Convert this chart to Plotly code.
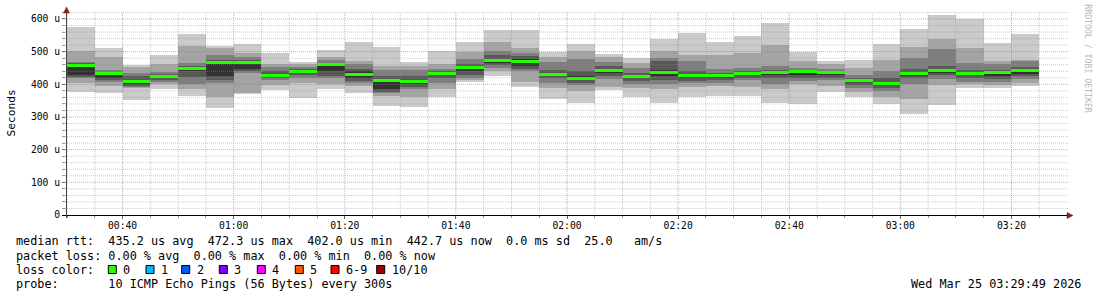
import plotly.graph_objects as go

# ---------------- data ----------------
DAY = "2026-03-25"
slot_start = ["00:30", "00:35", "00:40", "00:45", "00:50", "00:55", "01:00", "01:05", "01:10",
              "01:15", "01:20", "01:25", "01:30", "01:35", "01:40", "01:45", "01:50", "01:55",
              "02:00", "02:05", "02:10", "02:15", "02:20", "02:25", "02:30", "02:35", "02:40",
              "02:45", "02:50", "02:55", "03:00", "03:05", "03:10", "03:15", "03:20"]

# sorted ping round-trip times (microseconds), ping1 = fastest ... ping10 = slowest
ping1 = [375, 374, 352, 387, 364, 329, 370, 383, 359, 385, 372, 334, 331, 360, 408, 425, 393, 355,
         344, 383, 360, 344, 362, 363, 364, 344, 340, 378, 362, 340, 310, 337, 388, 388, 395]
ping2 = [405, 395, 388, 400, 387, 360, 374, 398, 405, 400, 396, 365, 362, 385, 414, 440, 408, 388,
         380, 392, 388, 385, 392, 395, 392, 385, 400, 395, 378, 360, 355, 398, 400, 398, 405]
ping3 = [418, 408, 392, 408, 401, 405, 434, 412, 418, 418, 405, 372, 385, 405, 420, 450, 440, 405,
         398, 415, 400, 402, 405, 405, 412, 400, 410, 412, 390, 380, 400, 415, 408, 408, 415]
ping4 = [422, 413, 396, 414, 423, 413, 440, 418, 428, 425, 410, 378, 392, 418, 428, 458, 448, 418,
         405, 425, 410, 412, 410, 412, 420, 418, 420, 420, 398, 390, 418, 428, 418, 415, 425]
ping5 = [428, 418, 400, 420, 440, 425, 446, 423, 436, 440, 420, 385, 400, 428, 440, 465, 455, 424,
         412, 436, 418, 425, 420, 420, 428, 428, 430, 428, 406, 398, 425, 435, 428, 425, 433]
ping6 = [461, 436, 412, 428, 450, 470, 472, 433, 442, 464, 440, 413, 414, 436, 456, 478, 478, 436,
         424, 447, 428, 445, 430, 430, 436, 440, 440, 437, 415, 405, 438, 446, 437, 440, 447]
ping7 = [464, 439, 425, 432, 455, 474, 476, 442, 446, 466, 448, 425, 425, 440, 462, 490, 488, 444,
         440, 455, 436, 472, 440, 436, 440, 445, 443, 440, 420, 418, 446, 455, 445, 445, 452]
ping8 = [469, 444, 436, 437, 466, 490, 485, 453, 452, 474, 462, 444, 444, 448, 478, 502, 497, 469,
         477, 469, 450, 482, 470, 446, 450, 456, 450, 446, 430, 440, 482, 508, 466, 462, 470]
ping9 = [502, 484, 452, 462, 518, 510, 497, 462, 461, 484, 472, 457, 456, 462, 500, 530, 510, 485,
         502, 483, 464, 502, 490, 490, 497, 520, 472, 462, 449, 474, 515, 539, 511, 470, 476]
ping10 = [574, 510, 459, 490, 554, 518, 523, 497, 468, 505, 530, 515, 468, 503, 530, 566, 566, 500,
          524, 494, 482, 539, 558, 529, 548, 588, 500, 472, 474, 522, 569, 612, 600, 525, 554]
median_rtt = [457, 433, 408, 424, 447, 466, 468, 428, 439, 461, 431, 411, 410, 433, 452, 472, 469, 430,
              419, 442, 423, 435, 426, 426, 433, 435, 439, 436, 411, 402, 432, 442, 433, 436, 443]

y_tick_values = [0, 100, 200, 300, 400, 500, 600]
y_tick_labels = ["0", "100 u", "200 u", "300 u", "400 u", "500 u", "600 u"]

legend_lines = [
    "median rtt:  435.2 us avg  472.3 us max  402.0 us min  442.7 us now  0.0 ms sd  25.0   am/s",
    "packet loss: 0.00 % avg  0.00 % max  0.00 % min  0.00 % now",
    "loss color:",
    "probe:       10 ICMP Echo Pings (56 Bytes) every 300s",
]
loss_labels = ["0", "1", "2", "3", "4", "5", "6-9", "10/10"]
loss_colors = ["#26ff00", "#00b8ff", "#0059ff", "#7e00ff", "#ff00ff", "#ff5500", "#ff0000", "#a10000"]
timestamp_text = "Wed Mar 25 03:29:49 2026"

# ---------------- geometry helpers (figure pixels -> paper) ----------------
W, H = 1097, 297
PL, PR, PT, PB = 66, 1066, 12, 215
PW, PH = PR - PL, PB - PT
Y_MAX = 621.4


def fx(x):
    return (x - PL) / PW


def fy(y):
    return (PB - y) / PH


times = [f"{DAY} {t}:00" for t in slot_start]
STEP_MS = 300000
MONO = "DejaVu Sans Mono"

fig = go.Figure()

bands = [(ping1, ping10, "#cacaca"), (ping2, ping9, "#a4a4a4"), (ping3, ping8, "#7e7e7e"),
         (ping4, ping7, "#585858"), (ping5, ping6, "#323232")]
for lo, hi, col in bands:
    fig.add_trace(go.Bar(
        x=times, y=[h - l for l, h in zip(lo, hi)], base=lo,
        width=STEP_MS, offset=0,
        marker=dict(color=col, line=dict(width=0)),
        hoverinfo="skip", showlegend=False))

# median drawn as a thin band (like smokeping's stacked area)
MED_HALF = 1.5 * Y_MAX / PH
fig.add_trace(go.Bar(
    x=times, y=[2 * MED_HALF] * len(median_rtt), base=[m - MED_HALF for m in median_rtt],
    width=STEP_MS, offset=0,
    marker=dict(color=loss_colors[0], line=dict(width=0)),
    hoverinfo="skip", showlegend=False))

shapes = []
# grid lines (drawn above the data like rrdtool)
MINOR = "rgba(143,143,143,0.45)"
MAJOR = "rgba(222,79,79,0.55)"
for v in range(20, 640, 20):
    if v > Y_MAX:
        break
    col = MAJOR if v % 100 == 0 else MINOR
    shapes.append(dict(type="line", xref="paper", yref="y", x0=fx(63), x1=fx(1068), y0=v, y1=v,
                       line=dict(color=col, width=1, dash="1px,1px"), layer="above"))
for k in range(0, 37):
    total = 30 + 5 * k
    hh, mm = divmod(total, 60)
    t = f"{DAY} {hh:02d}:{mm:02d}:00"
    col = MAJOR if mm % 20 == 0 else MINOR
    shapes.append(dict(type="line", xref="x", yref="paper", x0=t, x1=t, y0=fy(218), y1=fy(12),
                       line=dict(color=col, width=1, dash="1px,1px"), layer="above"))

# axes
shapes.append(dict(type="line", xref="paper", yref="paper", x0=fx(62), x1=fx(1068),
                   y0=fy(215.5), y1=fy(215.5), line=dict(color="#000000", width=1), layer="above"))
shapes.append(dict(type="line", xref="paper", yref="paper", x0=fx(66.5), x1=fx(66.5),
                   y0=fy(218), y1=fy(9), line=dict(color="#444444", width=1), layer="above"))
# arrows
ARROW = "#801f1f"
shapes.append(dict(type="path", xref="paper", yref="paper",
                   path=f"M {fx(63.5)},{fy(13)} L {fx(66.5)},{fy(7)} L {fx(69.5)},{fy(13)} Z",
                   fillcolor=ARROW, line=dict(color=ARROW, width=0.5), layer="above"))
shapes.append(dict(type="path", xref="paper", yref="paper",
                   path=f"M {fx(1067)},{fy(212.5)} L {fx(1073)},{fy(215.5)} L {fx(1067)},{fy(218.5)} Z",
                   fillcolor=ARROW, line=dict(color=ARROW, width=0.5), layer="above"))

annotations = []
LINE_Y = [240.5, 255.5, 269.7, 283.7]
for txt, ly in zip(legend_lines, LINE_Y):
    annotations.append(dict(text=txt.replace(" ", "&nbsp;"), xref="paper", yref="paper",
                            x=fx(15), y=fy(ly), xanchor="left", yanchor="middle",
                            showarrow=False, font=dict(family=MONO, size=11.8, color="#000"),
                            borderpad=0))
box_x = [108.3, 146.0, 181.7, 219.3, 257.3, 295.3, 331.0, 376.7]
for bx, lab, col in zip(box_x, loss_labels, loss_colors):
    shapes.append(dict(type="rect", xref="paper", yref="paper",
                       x0=fx(bx), x1=fx(bx + 8), y0=fy(265.5), y1=fy(273.5),
                       fillcolor=col, line=dict(color="#000", width=1)))
    annotations.append(dict(text=lab, xref="paper", yref="paper", x=fx(bx + 14), y=fy(269.7),
                            xanchor="left", yanchor="middle", showarrow=False, borderpad=0,
                            font=dict(family=MONO, size=11.8, color="#000")))
annotations.append(dict(text=timestamp_text, xref="paper", yref="paper", x=fx(1082), y=fy(283.7),
                        xanchor="right", yanchor="middle", showarrow=False, borderpad=0,
                        font=dict(family=MONO, size=11.8, color="#000")))
annotations.append(dict(text="Seconds", xref="paper", yref="paper", x=fx(11), y=fy(113.5),
                        xanchor="center", yanchor="middle", textangle=-90, showarrow=False,
                        font=dict(family=MONO, size=11.2, color="#000")))
annotations.append(dict(text="RRDTOOL / TOBI OETIKER", xref="paper", yref="paper", x=fx(1087.7),
                        y=fy(59), xanchor="center", yanchor="middle", textangle=90, showarrow=False,
                        font=dict(family=MONO, size=8.2, color="#b8b8b8")))

fig.update_layout(
    width=W, height=H, margin=dict(l=PL, r=W - PR, t=PT, b=H - PB, pad=0),
    paper_bgcolor="#ffffff", plot_bgcolor="#ffffff",
    barmode="overlay", bargap=0, showlegend=False,
    shapes=shapes, annotations=annotations,
    xaxis=dict(type="date", range=[f"{DAY} 00:29:49", f"{DAY} 03:29:49"],
               showgrid=False, zeroline=False, showline=False,
               tickformat="%H:%M", tick0=f"{DAY} 00:00:00", dtick=1200000,
               ticks="outside", ticklen=3, tickcolor="#666", tickwidth=1,
               ticklabelstandoff=-2,
               minor=dict(dtick=300000, tick0=f"{DAY} 00:00:00", ticks="outside", ticklen=2,
                          tickcolor="#999", showgrid=False),
               tickfont=dict(family=MONO, size=9.7, color="#000"), fixedrange=True),
    yaxis=dict(range=[0, Y_MAX], showgrid=False, zeroline=False, showline=False,
               tickmode="array", tickvals=y_tick_values, ticktext=y_tick_labels,
               ticks="outside", ticklen=3, tickcolor="#666", tickwidth=1,
               minor=dict(dtick=20, tick0=0, ticks="outside", ticklen=3, tickcolor="#999",
                          showgrid=False),
               tickfont=dict(family=MONO, size=9.7, color="#000"), fixedrange=True),
)

fig.write_html("out.html", config={"displayModeBar": False})
